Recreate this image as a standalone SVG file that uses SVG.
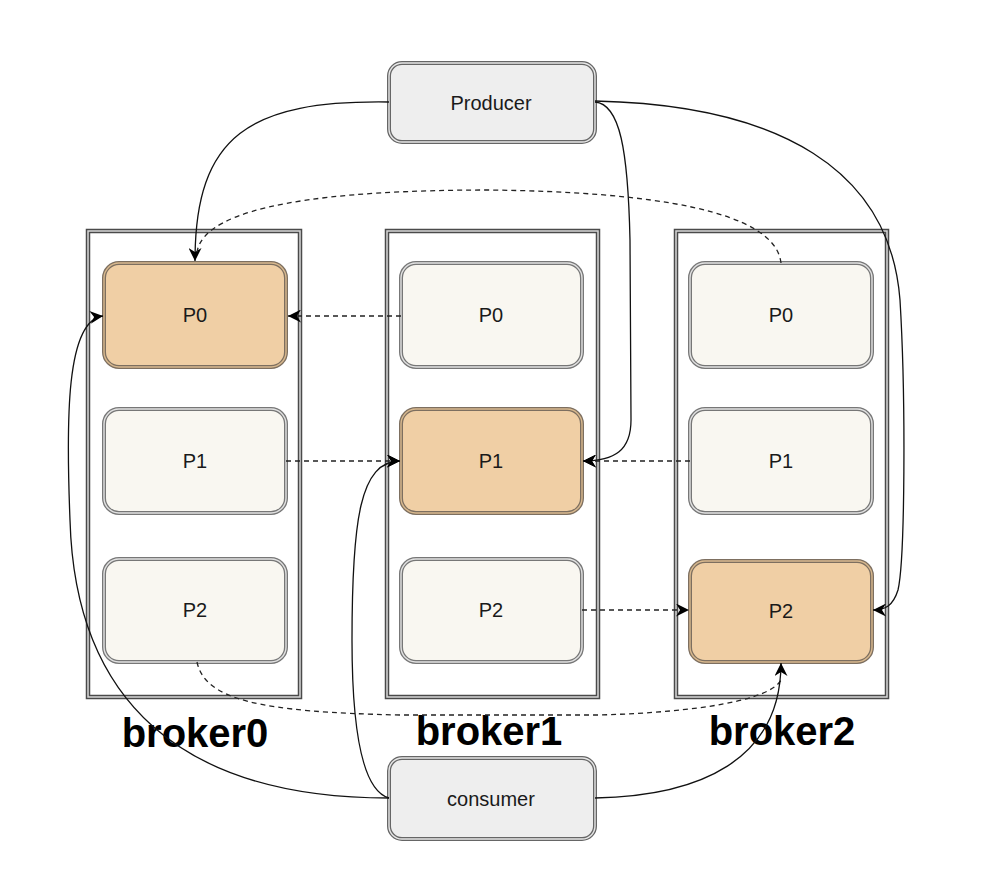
<svg xmlns="http://www.w3.org/2000/svg" width="1006" height="890" viewBox="0 0 1006 890">
<defs>
<style>
.bo{fill:#fff;stroke:#4a4a4a;stroke-width:4.5}
.bi{fill:none;stroke:#d8d8d8;stroke-width:1.5}
.pl{fill:#F9F7F1;stroke:#777;stroke-width:4}
.po{fill:#F0CFA5;stroke:#7d6f60;stroke-width:4}
.pg{fill:#EEEEEE;stroke:#666;stroke-width:4}
.pil{fill:none;stroke:#e2e2e2;stroke-width:1.4}
.pio{fill:none;stroke:#d9b98e;stroke-width:1.4}
.pig{fill:none;stroke:#e6e6e6;stroke-width:1.4}
.t{font-family:"Liberation Sans",Arial,sans-serif;font-size:20px;fill:#1a1a1a;text-anchor:middle}
.b{font-family:"Liberation Sans",Arial,sans-serif;font-size:40px;font-weight:bold;fill:#000;text-anchor:middle}
.s{fill:none;stroke:#111;stroke-width:1.3}
.d{fill:none;stroke:#222;stroke-width:1.3;stroke-dasharray:5 4}
</style>
<marker id="a" markerUnits="userSpaceOnUse" markerWidth="15" markerHeight="13" refX="13" refY="6.5" orient="auto">
<path d="M0,0 L13,6.5 L0,13 L4,6.5 z" fill="#000"/>
</marker>
</defs>

<g id="broker0">
<rect class="bo" x="88" y="231" width="212" height="466"/>
<rect class="bi" x="88" y="231" width="212" height="466"/>
<text class="b" x="195" y="747">broker0</text>
</g>
<g id="broker1">
<rect class="bo" x="387" y="231" width="211" height="466"/>
<rect class="bi" x="387" y="231" width="211" height="466"/>
<text class="b" x="489" y="745">broker1</text>
</g>
<g id="broker2">
<rect class="bo" x="676" y="231" width="211" height="466"/>
<rect class="bi" x="676" y="231" width="211" height="466"/>
<text class="b" x="782" y="745">broker2</text>
</g>

<g id="b0p0"><rect class="po" x="104" y="263" width="182" height="104" rx="15"/><rect class="pio" x="104" y="263" width="182" height="104" rx="15"/><text class="t" x="195" y="322">P0</text></g>
<g id="b0p1"><rect class="pl" x="104" y="409" width="182" height="104" rx="15"/><rect class="pil" x="104" y="409" width="182" height="104" rx="15"/><text class="t" x="195" y="468">P1</text></g>
<g id="b0p2"><rect class="pl" x="104" y="559" width="182" height="103" rx="15"/><rect class="pil" x="104" y="559" width="182" height="103" rx="15"/><text class="t" x="195" y="617">P2</text></g>

<g id="b1p0"><rect class="pl" x="401" y="263" width="181" height="104" rx="15"/><rect class="pil" x="401" y="263" width="181" height="104" rx="15"/><text class="t" x="491" y="322">P0</text></g>
<g id="b1p1"><rect class="po" x="401" y="409" width="181" height="104" rx="15"/><rect class="pio" x="401" y="409" width="181" height="104" rx="15"/><text class="t" x="491" y="468">P1</text></g>
<g id="b1p2"><rect class="pl" x="401" y="559" width="181" height="103" rx="15"/><rect class="pil" x="401" y="559" width="181" height="103" rx="15"/><text class="t" x="491" y="617">P2</text></g>

<g id="b2p0"><rect class="pl" x="690" y="263" width="182" height="104" rx="15"/><rect class="pil" x="690" y="263" width="182" height="104" rx="15"/><text class="t" x="781" y="322">P0</text></g>
<g id="b2p1"><rect class="pl" x="690" y="409" width="182" height="104" rx="15"/><rect class="pil" x="690" y="409" width="182" height="104" rx="15"/><text class="t" x="781" y="468">P1</text></g>
<g id="b2p2"><rect class="po" x="690" y="561" width="182" height="101" rx="15"/><rect class="pio" x="690" y="561" width="182" height="101" rx="15"/><text class="t" x="781" y="618">P2</text></g>

<g id="producer"><rect class="pg" x="389" y="63" width="206" height="79" rx="13"/><rect class="pig" x="389" y="63" width="206" height="79" rx="13"/><text class="t" x="491" y="110">Producer</text></g>
<g id="consumer"><rect class="pg" x="389" y="758" width="206" height="81" rx="13"/><rect class="pig" x="389" y="758" width="206" height="81" rx="13"/><text class="t" x="491" y="806">consumer</text></g>

<g id="connectors">
<path class="s" d="M389,102 C 250,100 195,135 195,261" marker-end="url(#a)"/>
<path class="s" d="M595,102 C 620,104 628,150 630,240 L 631,420 C 631,450 615,461 583,461" marker-end="url(#a)"/>
<path class="s" d="M595,101 C 780,105 890,170 900,300 C 906,400 905,560 898,590 C 893,606 885,610 873,610" marker-end="url(#a)"/>
<path class="d" d="M781,263 C 775,210 650,192 490,190 C 330,190 205,205 197,252"/>
<path class="d" d="M401,316 L 288,316" marker-end="url(#a)"/>
<path class="d" d="M286,461 L 400,461" marker-end="url(#a)"/>
<path class="d" d="M690,461 L 583,461" marker-end="url(#a)"/>
<path class="d" d="M582,610 L 689,610" marker-end="url(#a)"/>
<path class="d" d="M197,662 C 205,700 260,712 400,715 L 600,715 C 700,712 770,700 781,680"/>
<path class="s" d="M389,798 C 180,798 75,700 70,520 C 66,420 66,320 103,316" marker-end="url(#a)"/>
<path class="s" d="M389,798 C 360,790 352,720 352,640 C 352,520 360,461 400,461" marker-end="url(#a)"/>
<path class="s" d="M595,798 C 700,796 781,760 781,663" marker-end="url(#a)"/>
</g>
</svg>
